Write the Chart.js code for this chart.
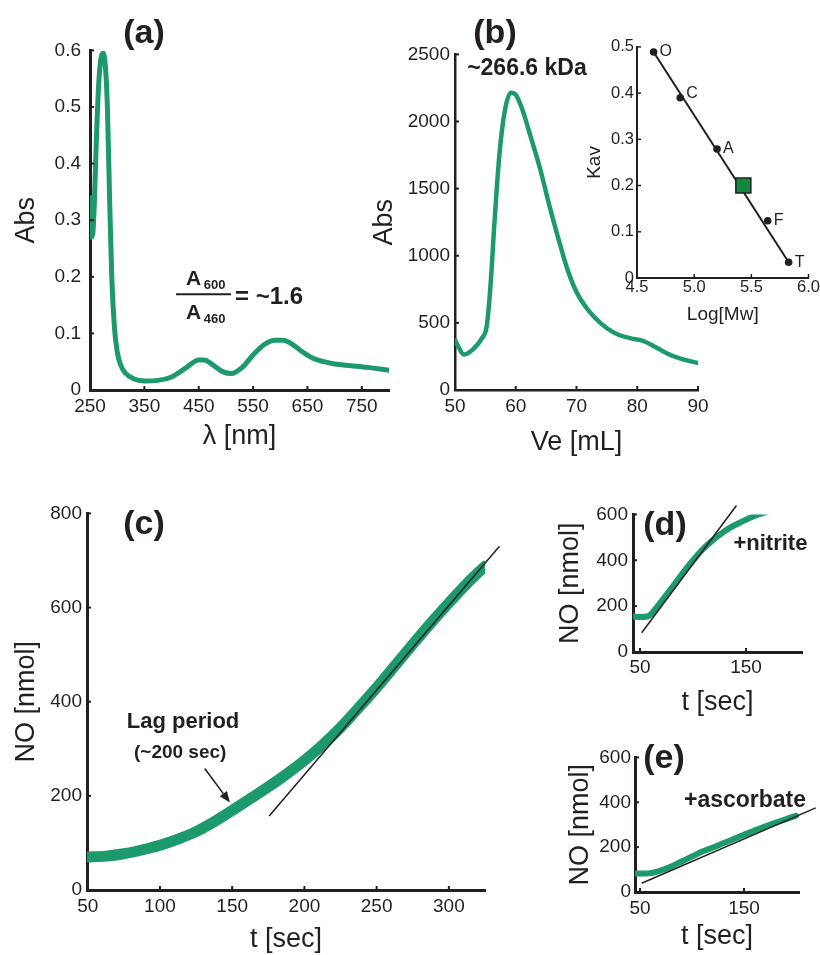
<!DOCTYPE html>
<html>
<head>
<meta charset="utf-8">
<script src="https://cdn.jsdelivr.net/npm/chart.js@4.4.1/dist/chart.umd.min.js"></script>
<style>
  body { margin: 0; width: 820px; height: 955px; overflow: hidden; background: #fff; position: relative;
         font-family: "Liberation Sans", Arial, sans-serif; }
  canvas { position: absolute; }
  .tag { position: absolute; font-weight: bold; font-size: 34px; line-height: 1; color: #231f20;
         transform: translate(-50%, -50%); }
</style>
</head>
<body>
<canvas id="chartA"></canvas>
<canvas id="chartB"></canvas>
<canvas id="chartInset"></canvas>
<canvas id="chartC"></canvas>
<canvas id="chartD"></canvas>
<canvas id="chartE"></canvas>
<div class="tag" style="left:144px;top:31px">(a)</div>
<div class="tag" style="left:495px;top:31px">(b)</div>
<div class="tag" style="left:144px;top:522px">(c)</div>
<div class="tag" style="left:665px;top:523px">(d)</div>
<div class="tag" style="left:664px;top:756px">(e)</div>
<script>
// (a) absorption spectrum
var specNm = [250, 252, 255, 258, 262, 266, 270, 274, 278, 282, 286, 290, 295, 300, 306, 315, 330, 350, 375, 400,
              425, 450, 460, 475, 495, 510, 530, 550, 570, 590, 605, 620, 640, 660, 680, 700, 730, 760, 800];
var specAbs = [0.34, 0.27, 0.275, 0.33, 0.45, 0.54, 0.585, 0.595, 0.575, 0.50, 0.34, 0.20, 0.11, 0.068, 0.045, 0.03, 0.02, 0.016, 0.017, 0.023,
               0.038, 0.053, 0.053, 0.045, 0.032, 0.029, 0.04, 0.062, 0.08, 0.088, 0.088, 0.082, 0.068, 0.056, 0.05, 0.046, 0.043, 0.04, 0.035];
var specXTicks = [250, 350, 450, 550, 650, 750];
var specYTicks = [0, 0.1, 0.2, 0.3, 0.4, 0.5, 0.6];

// (b) gel filtration elution
var elutVe = [50, 51.5, 53, 54.5, 55.2, 55.8, 56.5, 57.3, 58.2, 59.2, 60, 61, 62.5, 64, 65.5, 67, 68.5, 70,
              71.5, 73, 75, 77, 79, 81, 83, 85, 87, 90];
var elutAbs = [370, 265, 305, 390, 470, 750, 1250, 1750, 2080, 2215, 2200, 2100, 1880, 1650, 1380, 1130, 900, 730,
               620, 540, 460, 410, 385, 365, 320, 270, 235, 200];
var elutXTicks = [50, 60, 70, 80, 90];
var elutYTicks = [0, 500, 1000, 1500, 2000, 2500];

// inset: calibration standards
var stdNames = ['O', 'C', 'A', 'F', 'T'];
var stdLogMw = [4.645, 4.878, 5.2, 5.643, 5.826];
var stdKav = [0.489, 0.39, 0.279, 0.124, 0.034];
var fitLogMw = [4.645, 5.826];
var fitKav = [0.489, 0.034];
var sampleLogMw = [5.43];
var sampleKav = [0.2];
var insetXTicks = [4.5, 5.0, 5.5, 6.0];
var insetYTicks = [0, 0.1, 0.2, 0.3, 0.4, 0.5];

// (c) NO production
var cT = [49.5, 62.5, 75, 87.5, 100, 112.5, 125, 137.5, 150, 162.5, 175, 187.5, 200, 212.5, 225, 237.5,
          250, 262.5, 275, 287.5, 300, 312.5, 325];
var cNO = [70, 72, 77, 85, 95, 108, 124, 145, 169, 194, 219, 246, 275, 308, 345, 387,
           430, 476, 522, 567, 610, 651, 688];
var cTanT = [175.6, 335];
var cTanNO = [157, 730];
var cXTicks = [50, 100, 150, 200, 250, 300];
var cYTicks = [0, 200, 400, 600, 800];

// (d) +nitrite
var dT = [44, 50, 57, 60, 64, 70, 80, 90, 100, 110, 118, 126, 135, 145, 155, 163, 170];
var dNO = [155, 153, 155, 163, 185, 220, 280, 342, 400, 452, 485, 514, 542, 566, 588, 601, 612];
var dTanT = [51.6, 141];
var dTanNO = [84, 639];

// (e) +ascorbate
var eT = [44, 50, 56, 60, 65, 70, 80, 90, 100, 110, 120, 130, 140, 150, 160, 170, 180, 190, 200];
var eNO = [82, 82, 82, 84, 89, 96, 114, 136, 158, 180, 198, 217, 236, 255, 274, 292, 308, 324, 340];
var eTanT = [51.6, 219];
var eTanNO = [39, 375];
var smallXTicks = [50, 150];
var smallYTicks = [0, 200, 400, 600];

const ink = '#231f20';
const green = '#1d9a6c';
const FONT = '"Liberation Sans", Arial, sans-serif';
Chart.defaults.font.family = FONT;
Chart.defaults.color = ink;

function pts(xs, ys) {
    return xs.map((x, i) => ({ x: x, y: ys[i] }));
}

// short inward tick marks like the original figure
const innerTicks = {
    id: 'innerTicks',
    afterDatasetsDraw(chart, args, opts) {
        if (!opts.len) return;
        const { ctx, chartArea: a } = chart;
        const sx = chart.scales.x, sy = chart.scales.y;
        ctx.save();
        ctx.strokeStyle = ink;
        ctx.lineWidth = opts.width || 2;
        sx.ticks.forEach(t => {
            const p = sx.getPixelForValue(t.value);
            ctx.beginPath(); ctx.moveTo(p, a.bottom); ctx.lineTo(p, a.bottom - opts.len); ctx.stroke();
        });
        sy.ticks.forEach(t => {
            const p = sy.getPixelForValue(t.value);
            ctx.beginPath(); ctx.moveTo(a.left, p); ctx.lineTo(a.left + opts.len, p); ctx.stroke();
        });
        ctx.restore();
    }
};

// text, fraction bar and arrow annotations anchored in data units
const notes = {
    id: 'notes',
    afterDatasetsDraw(chart, args, opts) {
        const items = opts.items || [];
        const ctx = chart.ctx;
        const sx = chart.scales.x, sy = chart.scales.y;
        ctx.save();
        ctx.fillStyle = ink;
        ctx.strokeStyle = ink;
        items.forEach(it => {
            const px = sx.getPixelForValue(it.x) + (it.dx || 0);
            const py = sy.getPixelForValue(it.y) + (it.dy || 0);
            if (it.text) {
                ctx.font = it.font;
                ctx.textAlign = it.align || 'center';
                ctx.textBaseline = 'middle';
                ctx.fillText(it.text, px, py);
            } else if (it.bar) {
                ctx.lineWidth = 2;
                ctx.beginPath(); ctx.moveTo(px - it.bar[0], py); ctx.lineTo(px + it.bar[1], py); ctx.stroke();
            } else if (it.to) {
                const qx = sx.getPixelForValue(it.to[0]), qy = sy.getPixelForValue(it.to[1]);
                const ang = Math.atan2(qy - py, qx - px);
                const hl = 11, hw = 4.5;
                const bx = qx - hl * Math.cos(ang), by = qy - hl * Math.sin(ang);
                ctx.lineWidth = 1.6;
                ctx.beginPath(); ctx.moveTo(px, py); ctx.lineTo(bx, by); ctx.stroke();
                ctx.beginPath();
                ctx.moveTo(qx, qy);
                ctx.lineTo(bx + hw * Math.sin(ang), by - hw * Math.cos(ang));
                ctx.lineTo(bx - hw * Math.sin(ang), by + hw * Math.cos(ang));
                ctx.closePath(); ctx.fill();
            }
        });
        ctx.restore();
    }
};
Chart.register(innerTicks, notes);

function axis(o) {
    return {
        type: 'linear', min: o.min, max: o.max,
        border: { display: true, color: ink, width: o.bw || 3 },
        grid: { display: false, drawTicks: false },
        ticks: { color: ink, font: { size: o.fs || 19 }, padding: o.tp, autoSkip: false, maxRotation: 0,
                 callback: o.fmt || (v => String(v)) },
        afterBuildTicks: s => { s.ticks = o.ticks.map(v => ({ value: v })); },
        afterFit: s => { if (s.isHorizontal()) s.height = o.size; else s.width = o.size; },
        title: { display: true, text: o.title, color: ink, font: { size: o.ts || 27 },
                 padding: { top: o.pad || 0, bottom: 0 } }
    };
}

// place a canvas so that its plot area lands at (L,T) with size w x h
function makeChart(id, g, datasets, scales, plugins) {
    const c = document.getElementById(id);
    c.width = g.yW + g.w + g.pr;
    c.height = g.pt + g.h + g.xH;
    c.style.left = (g.L - g.yW) + 'px';
    c.style.top = (g.T - g.pt) + 'px';
    return new Chart(c.getContext('2d'), {
        type: 'line',
        data: { datasets: datasets },
        options: {
            responsive: false, animation: false, events: [],
            layout: { autoPadding: false, padding: { left: 0, top: g.pt, right: g.pr, bottom: 0 } },
            elements: { point: { radius: 0 } },
            scales: scales,
            plugins: Object.assign({ legend: { display: false }, tooltip: { enabled: false } }, plugins)
        }
    });
}

function curve(xs, ys, w) {
    return { data: pts(xs, ys), borderColor: green, borderWidth: w, cubicInterpolationMode: 'monotone',
             pointRadius: 0, fill: false, borderCapStyle: 'round', borderJoinStyle: 'round' };
}
function tangent(xs, ys, w) {
    return { data: pts(xs, ys), borderColor: ink, borderWidth: w, pointRadius: 0, tension: 0, clip: false };
}
const dec1 = v => (v === 0 ? '0' : v.toFixed(1));

// (a)
makeChart('chartA', { L: 90, T: 45, w: 299, h: 345, yW: 90, xH: 63, pt: 15, pr: 25 },
    [curve(specNm, specAbs, 5)],
    {
        x: axis({ min: 250, max: 800, ticks: specXTicks, title: 'λ [nm]', size: 63, tp: 5 }),
        y: axis({ min: 0, max: 0.6, ticks: specYTicks, title: 'Abs', size: 90, tp: 9, pad: 10, fmt: dec1 })
    },
    {
        innerTicks: { len: 4 },
        notes: { items: [
            { x: 458, y: 0.169, dx: -9.5, dy: -15, text: 'A', font: 'bold 21px ' + FONT },
            { x: 458, y: 0.169, dx: 11.5, dy: -9, text: '600', font: 'bold 13px ' + FONT },
            { x: 458, y: 0.169, bar: [27, 28] },
            { x: 458, y: 0.169, dx: -9.5, dy: 19, text: 'A', font: 'bold 21px ' + FONT },
            { x: 458, y: 0.169, dx: 11.5, dy: 25, text: '460', font: 'bold 13px ' + FONT },
            { x: 458, y: 0.169, dx: 32, dy: 3, text: '= ~1.6', font: 'bold 24px ' + FONT, align: 'left' }
        ] }
    });

// (b)
makeChart('chartB', { L: 455, T: 53, w: 243, h: 337, yW: 100, xH: 69, pt: 15, pr: 25 },
    [curve(elutVe, elutAbs, 4.5)],
    {
        x: axis({ min: 50, max: 90, ticks: elutXTicks, title: 'Ve [mL]', size: 69, tp: 5, bw: 2.5 }),
        y: axis({ min: 0, max: 2500, ticks: elutYTicks, title: 'Abs', size: 100, tp: 5, pad: 13, bw: 2.5 })
    },
    {
        innerTicks: { len: 4 },
        notes: { items: [
            { x: 52, y: 2396, text: '~266.6 kDa', font: 'bold 23px ' + FONT, align: 'left' }
        ] }
    });

// inset calibration
makeChart('chartInset', { L: 637, T: 46, w: 172, h: 232, yW: 57, xH: 48, pt: 12, pr: 11 },
    [
        { data: pts(sampleLogMw, sampleKav), showLine: false, pointStyle: 'rect', pointRadius: 10.6,
          pointBackgroundColor: '#13893f', pointBorderColor: ink, pointBorderWidth: 1.5 },
        { data: pts(stdLogMw, stdKav), showLine: false, pointRadius: 3.8,
          pointBackgroundColor: ink, pointBorderColor: ink, pointBorderWidth: 0 },
        { data: pts(fitLogMw, fitKav), borderColor: ink, borderWidth: 2, pointRadius: 0, tension: 0 }
    ],
    {
        x: axis({ min: 4.5, max: 6.0, ticks: insetXTicks, title: 'Log[Mw]', size: 48, tp: 0, bw: 2,
                  fs: 16.5, ts: 19, fmt: v => v.toFixed(1) }),
        y: axis({ min: 0, max: 0.5, ticks: insetYTicks, title: 'Kav', size: 57, tp: 3, pad: 3, bw: 2,
                  fs: 16.5, ts: 19, fmt: dec1 })
    },
    {
        innerTicks: { len: 4, width: 1.5 },
        notes: { items: stdNames.map((n, i) => ({ x: stdLogMw[i], y: stdKav[i], dx: 6, dy: i === 1 ? -4 : 0,
                                                  text: n, font: '16px ' + FONT, align: 'left' })) }
    });

// (c)
makeChart('chartC', { L: 87, T: 512, w: 398, h: 378, yW: 87, xH: 66, pt: 15, pr: 25 },
    [tangent(cTanT, cTanNO, 1.5), curve(cT, cNO, 11)],
    {
        x: axis({ min: 49.5, max: 325, ticks: cXTicks, title: 't [sec]', size: 66, tp: 5 }),
        y: axis({ min: 0, max: 800, ticks: cYTicks, title: 'NO [nmol]', size: 87, tp: 5, pad: 10 })
    },
    {
        innerTicks: { len: 4 },
        notes: { items: [
            { x: 116, y: 356, text: 'Lag period', font: 'bold 22px ' + FONT },
            { x: 114, y: 292, text: '(~200 sec)', font: 'bold 19px ' + FONT },
            { x: 131, y: 258, to: [148.4, 186] }
        ] }
    });

// (d)
makeChart('chartD', { L: 633, T: 513, w: 169, h: 139, yW: 83, xH: 67, pt: 15, pr: 18 },
    [tangent(dTanT, dTanNO, 1.5), curve(dT, dNO, 6)],
    {
        x: axis({ min: 43.4, max: 202.8, ticks: smallXTicks, title: 't [sec]', size: 67, tp: 4 }),
        y: axis({ min: 0, max: 600, ticks: smallYTicks, title: 'NO [nmol]', size: 83, tp: 5, pad: 4 })
    },
    {
        innerTicks: { len: 4 },
        notes: { items: [ { x: 173, y: 470, text: '+nitrite', font: 'bold 22px ' + FONT } ] }
    });

// (e)
makeChart('chartE', { L: 635, T: 757, w: 164, h: 135, yW: 75, xH: 61, pt: 15, pr: 21 },
    [tangent(eTanT, eTanNO, 1.5), curve(eT, eNO, 6)],
    {
        x: axis({ min: 45.2, max: 202.9, ticks: smallXTicks, title: 't [sec]', size: 61, tp: 5 }),
        y: axis({ min: 0, max: 600, ticks: smallYTicks, title: 'NO [nmol]', size: 75, tp: 4, pad: 4 })
    },
    {
        innerTicks: { len: 4 },
        notes: { items: [ { x: 151, y: 409, text: '+ascorbate', font: 'bold 23px ' + FONT } ] }
    });
</script>
</body>
</html>
